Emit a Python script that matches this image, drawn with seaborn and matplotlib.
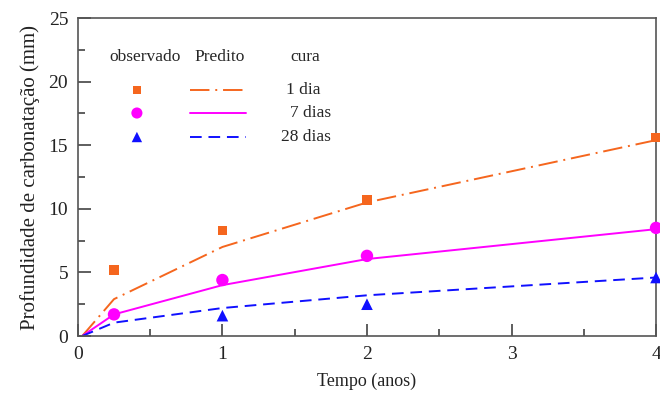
import numpy as np
import pandas as pd
import seaborn as sns
import matplotlib.pyplot as plt
from matplotlib.ticker import MultipleLocator

# observed points
t_obs = [0.25, 1, 2, 4]
obs_1dia = [5.2, 8.3, 10.7, 15.6]
obs_7dias = [1.7, 4.4, 6.3, 8.5]
t_obs_28 = [1, 2, 4]
obs_28dias = [1.6, 2.5, 4.6]

# predicted curves
t_pred = [0.03, 0.25, 1, 2, 4]
pred_1dia = [0, 2.9, 7.0, 10.5, 15.4]
pred_7dias = [0, 1.7, 4.0, 6.05, 8.4]
pred_28dias = [0, 1.05, 2.2, 3.2, 4.6]

labels = ["1 dia", "7 dias", "28 dias"]
colors = ["#f5661e", "#ff00ff", "#1010ff"]
markers = ["s", "o", "^"]
msizes = [50, 80, 70]
dashes = [(10, 3, 1, 3), None, (6, 3.5)]

sns.set_style("ticks")
plt.rcParams['font.family'] = ['Liberation Serif', 'DejaVu Serif']

fig = plt.figure(figsize=(6.6, 3.96), dpi=100)
ax = fig.add_axes([0.118, 0.1515, 0.876, 0.803])

preds = [pred_1dia, pred_7dias, pred_28dias]
obs = [(t_obs, obs_1dia), (t_obs, obs_7dias), (t_obs_28, obs_28dias)]
for i in range(3):
    sns.lineplot(x=t_pred, y=preds[i], color=colors[i], lw=1.4, ax=ax)
    l = ax.lines[-1]
    if dashes[i] is not None:
        l.set_dashes(dashes[i])
    sns.scatterplot(x=obs[i][0], y=obs[i][1], color=colors[i], marker=markers[i],
                    s=msizes[i], edgecolor="none", ax=ax, clip_on=False, zorder=5)

ax.set_xlim(0, 4)
ax.set_ylim(0, 25)
ax.xaxis.set_major_locator(MultipleLocator(1))
ax.xaxis.set_minor_locator(MultipleLocator(0.5))
ax.yaxis.set_major_locator(MultipleLocator(5))
ax.yaxis.set_minor_locator(MultipleLocator(2.5))
ax.tick_params(which="both", direction="in", colors="#333333", labelcolor="#222222",
               labelsize=14, width=1.1)
ax.tick_params(which="major", length=9, pad=7)
ax.tick_params(which="minor", length=5)
for s in ax.spines.values():
    s.set_color("#555555")
    s.set_linewidth(1.2)

ax.set_xlabel("Tempo (anos)", fontsize=13, color="#222222", labelpad=7)
ax.set_ylabel("Profundidade de carbonatação (mm)", fontsize=15, color="#222222", labelpad=6)

# manual legend
tr = ax.transAxes
def ax_x(px):
    return (px - 78) / 578.0
def ax_y(py):
    return (336 - py) / 318.0

fs = 12.5
ax.text(ax_x(145), ax_y(57), "observado", transform=tr, ha="center", va="center", fontsize=fs)
ax.text(ax_x(220), ax_y(57), "Predito", transform=tr, ha="center", va="center", fontsize=fs)
ax.text(ax_x(305), ax_y(57), "cura", transform=tr, ha="center", va="center", fontsize=fs)
rows = [90, 113, 137]
right_edges = [321, 331, 331]
for i in range(3):
    ax.scatter([ax_x(137)], [ax_y(rows[i])], transform=tr, color=colors[i],
               marker=markers[i], s=msizes[i] * 0.8, edgecolor="none")
    lg, = ax.plot([ax_x(190), ax_x(246)], [ax_y(rows[i])] * 2, transform=tr,
                  color=colors[i], lw=1.4)
    if dashes[i] is not None:
        lg.set_dashes(dashes[i])
    ax.text(ax_x(right_edges[i]), ax_y(rows[i]), labels[i], transform=tr, ha="right",
            va="center", fontsize=fs)

fig.savefig("out.png", dpi=100)
